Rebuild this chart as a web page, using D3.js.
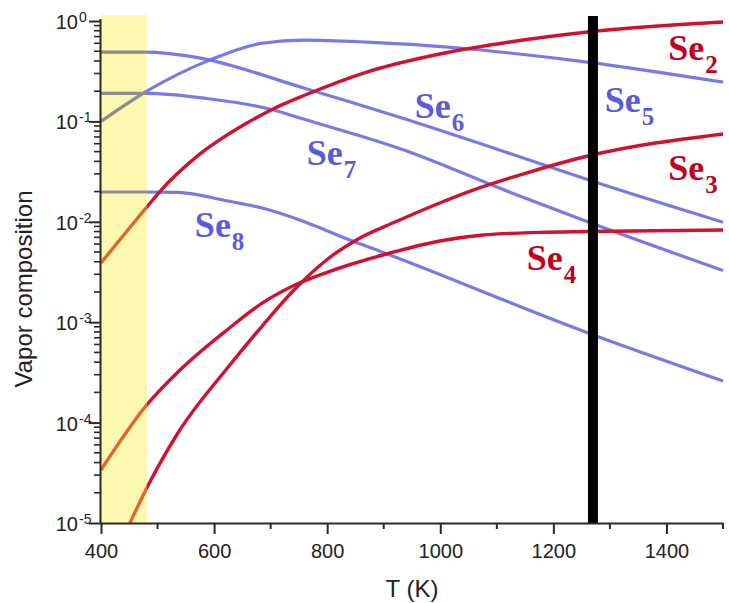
<!DOCTYPE html>
<html><head><meta charset="utf-8">
<script src="https://cdn.jsdelivr.net/npm/d3@7"></script>
<style>body{margin:0;background:#fff}svg{display:block}</style>
</head><body>
<svg id="chart" width="729" height="603"></svg>
<script>
// ---- data (T in K, vapor mole fraction) ----
const se2T = [400, 481, 508, 566, 655, 708, 761, 870, 999, 1123, 1261, 1500];
const se2V = [0.00389, 0.0140, 0.0212, 0.0431, 0.0942, 0.136, 0.183, 0.310, 0.469, 0.618, 0.777, 0.977];
const se3T = [451, 481, 536, 625, 685, 743, 801, 858, 920, 999, 1058, 1146, 1261, 1500];
const se3V = [1.0e-5, 2.23e-5, 7.88e-5, 3.58e-4, 9.16e-4, 2.14e-3, 4.26e-3, 6.90e-3, 9.95e-3, 0.0154, 0.0207, 0.0299, 0.0452, 0.075];
const se4T = [400, 481, 536, 625, 685, 743, 801, 911, 999, 1076, 1176, 1261, 1500];
const se4V = [3.37e-5, 1.50e-4, 3.19e-4, 8.56e-4, 1.55e-3, 2.35e-3, 3.16e-3, 4.89e-3, 6.44e-3, 7.39e-3, 7.85e-3, 8.0e-3, 8.28e-3];
const se5T = [400, 481, 593, 684, 760, 870, 1034, 1123, 1260, 1500];
const se5V = [0.1, 0.2, 0.41, 0.60, 0.646, 0.617, 0.538, 0.48, 0.39, 0.246];
const se6T = [400, 481, 566, 760, 928, 1123, 1264, 1500];
const se6V = [0.49, 0.49, 0.437, 0.214, 0.110, 0.048, 0.0259, 0.0099];
const se7T = [400, 481, 584, 707, 752, 937, 1123, 1264, 1500];
const se7V = [0.19, 0.19, 0.17, 0.129, 0.108, 0.0516, 0.0197, 0.00986, 0.00327];
const se8T = [400, 481, 536, 624, 685, 761, 831, 911, 1260, 1500];
const se8V = [0.0198, 0.0198, 0.0196, 0.0161, 0.0137, 0.00995, 0.0069, 0.00467, 7.87e-4, 2.6e-4];

const seriesNames = ["Se2", "Se3", "Se4", "Se5", "Se6", "Se7", "Se8"];
const seriesGroup = ["red", "red", "red", "blue", "blue", "blue", "blue"];
const xTickValues = [400, 600, 800, 1000, 1200, 1400];
const xMinorValues = [500, 700, 900, 1100, 1300, 1500];
const yExponents = [0, -1, -2, -3, -4, -5];
const bandRange = [400, 481];
const markerT = 1270;
const xTitle = "T (K)";
const yTitle = "Vapor composition";
const labelNames = ["Se", "Se", "Se", "Se", "Se", "Se", "Se"];
const labelSubs = ["2", "3", "4", "5", "6", "7", "8"];
const labelT = [1403, 1403, 1153, 1291, 955, 764, 566];
const labelV = [0.409, 0.026, 0.0033, 0.124, 0.108, 0.0368, 0.00706];

// ---- build ----
(function () {
const svg = d3.select("#chart");
const pL = 101, pR = 723, pT = 21, pB = 523;
const x = d3.scaleLinear().domain([400, 1500]).range([pL, pR]);
const y = d3.scaleLog().domain([1e-5, 1]).range([pB, pT]);

const data = [
  d3.zip(se2T, se2V), d3.zip(se3T, se3V), d3.zip(se4T, se4V),
  d3.zip(se5T, se5V), d3.zip(se6T, se6V), d3.zip(se7T, se7V), d3.zip(se8T, se8V)
];

const colors = {red: "#cf1230", blue: "#6a6ae6"};
const bandColors = {red: "#dc6a26", blue: "#8c8c92"};
const textColors = {red: "#c0001c", blue: "#5a5adc"};

svg.append("rect")
  .attr("x", x(bandRange[0])).attr("y", 15)
  .attr("width", x(bandRange[1]) - x(bandRange[0]))
  .attr("height", pB - 15)
  .attr("fill", "#fcf8b0");

const defs = svg.append("defs");
defs.append("clipPath").attr("id", "clipBand").append("rect")
  .attr("x", x(bandRange[0]) - 5).attr("y", 0)
  .attr("width", x(bandRange[1]) - x(bandRange[0]) + 5).attr("height", pB);
defs.append("clipPath").attr("id", "clipMain").append("rect")
  .attr("x", x(bandRange[1])).attr("y", 0)
  .attr("width", pR - x(bandRange[1]) + 5).attr("height", pB);

const line = d3.line().x(d => x(d[0])).y(d => y(d[1])).curve(d3.curveMonotoneX);

const order = [3, 4, 5, 6, 0, 1, 2];
order.forEach(i => {
  const g = seriesGroup[i];
  svg.append("path").datum(data[i])
    .attr("d", line).attr("fill", "none")
    .attr("stroke", bandColors[g]).attr("stroke-width", g === "red" ? 3.4 : 3.2)
    .attr("clip-path", "url(#clipBand)");
  svg.append("path").datum(data[i])
    .attr("d", line).attr("fill", "none")
    .attr("stroke", colors[g]).attr("stroke-width", g === "red" ? 3.4 : 3.2)
    .attr("stroke-opacity", g === "blue" ? 0.9 : 1)
    .attr("clip-path", "url(#clipMain)");
});

svg.append("line")
  .attr("x1", x(markerT)).attr("x2", x(markerT))
  .attr("y1", 16).attr("y2", pB)
  .attr("stroke", "#000").attr("stroke-width", 10);

const axisColor = "#2a2a22";
const xAxis = svg.append("g").attr("transform", `translate(0,${pB})`)
  .call(d3.axisBottom(x).tickValues(xTickValues).tickSize(11).tickSizeOuter(0).tickFormat(d3.format("d")));
xAxis.select(".domain").attr("stroke", axisColor).attr("stroke-width", 2)
  .attr("d", `M${pL - 1},0.5H${pR}`);
xAxis.selectAll(".tick line").attr("stroke", axisColor).attr("stroke-width", 2);
xAxis.selectAll(".tick text").attr("font-family", "Liberation Sans, Arial, sans-serif")
  .attr("font-size", 20).attr("fill", "#222").attr("dy", null).attr("y", 35);
svg.append("g").attr("transform", `translate(0,${pB})`)
  .selectAll("line").data(xMinorValues).join("line")
  .attr("x1", d => x(d)).attr("x2", d => x(d)).attr("y1", 0).attr("y2", 6)
  .attr("stroke", axisColor).attr("stroke-width", 2);

const yMajor = yExponents.map(e => Math.pow(10, e));
const yMinor = [];
yExponents.slice(1).forEach(e => { for (let k = 2; k <= 9; k++) yMinor.push(k * Math.pow(10, e)); });
const yAxis = svg.append("g").attr("transform", `translate(${pL - 1},0)`)
  .call(d3.axisLeft(y).tickValues(yMajor).tickSize(11).tickSizeOuter(0).tickFormat(""));
yAxis.select(".domain").attr("stroke", axisColor).attr("stroke-width", 2)
  .attr("d", `M0.5,${pT - 2}V${pB}`);
yAxis.selectAll(".tick line").attr("stroke", axisColor).attr("stroke-width", 2);
svg.append("g").attr("transform", `translate(${pL - 1},0)`)
  .selectAll("line").data(yMinor).join("line")
  .attr("x1", 0).attr("x2", -6).attr("y1", d => y(d)).attr("y2", d => y(d))
  .attr("stroke", axisColor).attr("stroke-width", 1.6);

const yl = svg.append("g").attr("font-family", "Liberation Sans, Arial, sans-serif").attr("fill", "#222");
yExponents.forEach(e => {
  const yy = y(Math.pow(10, e));
  yl.append("text").attr("x", 78).attr("y", yy + 8).attr("text-anchor", "end")
    .attr("font-size", 20).text("10");
  yl.append("text").attr("x", 79).attr("y", yy + 1).attr("font-size", 14).text(String(e));
});

svg.append("text").attr("x", (pL + pR) / 2).attr("y", 597).attr("text-anchor", "middle")
  .attr("font-family", "Liberation Sans, Arial, sans-serif").attr("font-size", 24).attr("fill", "#222")
  .text(xTitle);
svg.append("text").attr("transform", `translate(32,289) rotate(-90)`).attr("text-anchor", "middle")
  .attr("font-family", "Liberation Sans, Arial, sans-serif").attr("font-size", 24).attr("fill", "#222")
  .text(yTitle);

seriesNames.forEach((n, i) => {
  const t = svg.append("text").attr("x", x(labelT[i])).attr("y", y(labelV[i]))
    .attr("font-family", "Liberation Serif, Times New Roman, serif").attr("font-weight", "bold")
    .attr("font-size", 36).attr("fill", textColors[seriesGroup[i]]);
  t.append("tspan").text(labelNames[i]);
  t.append("tspan").attr("dy", 13).attr("dx", 1).attr("font-size", 25).text(labelSubs[i]);
});
})();
</script>
</body></html>
